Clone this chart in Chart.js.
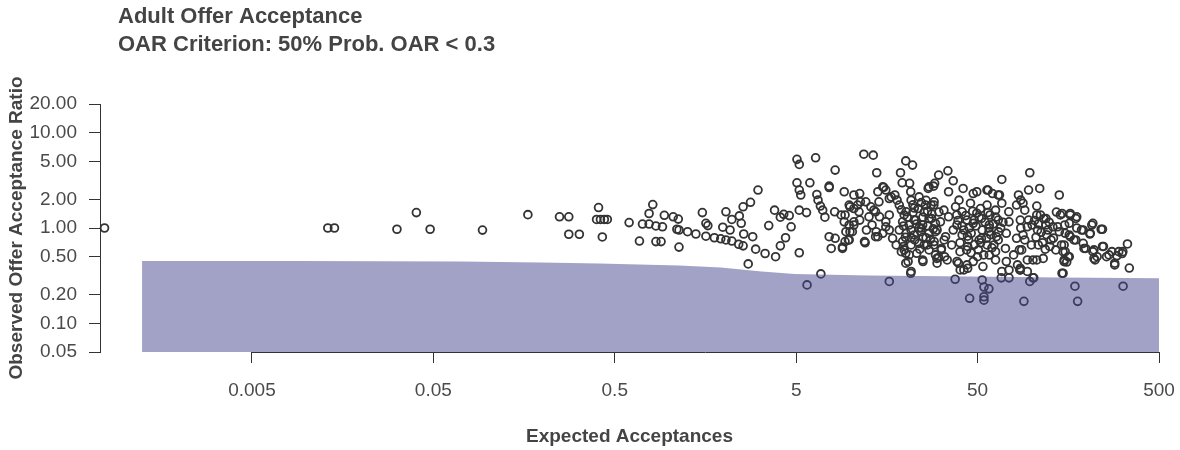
<!DOCTYPE html>
<html>
<head>
<meta charset="utf-8">
<script src="https://cdn.jsdelivr.net/npm/chart.js@4.4.0/dist/chart.umd.min.js"></script>
<style>
  html, body { margin: 0; padding: 0; background: #fff; }
  #wrap { width: 1180px; height: 450px; }
</style>
</head>
<body>
<div id="wrap"><canvas id="oarChart" width="1180" height="450"></canvas></div>
<script>
const titleLines = ["Adult Offer Acceptance", "OAR Criterion: 50% Prob. OAR < 0.3"];
const xTitle = "Expected Acceptances";
const yTitle = "Observed Offer Acceptance Ratio";
const xTicks = [0.005, 0.05, 0.5, 5, 50, 500];
const yTicks = [0.05, 0.1, 0.2, 0.5, 1, 2, 5, 10, 20];

// criterion band (upper edge of the shaded area)
const criterionX = [0.00124, 0.0092, 0.0701, 0.194, 0.408, 1.13, 1.92, 3.23, 4.91, 12.6, 44.7, 140, 500];
const criterionY = [0.451, 0.451, 0.446, 0.435, 0.425, 0.405, 0.384, 0.349, 0.330, 0.318, 0.309, 0.303, 0.297];

// observed units: [expected, observed ratio]
const sparseLeft = [
  [0.00077, 1.0], [0.0131, 1.0], [0.01425, 1.0], [0.0315, 0.97], [0.0403, 1.45], [0.048, 0.97],
  [0.0933, 0.95], [0.166, 1.38], [0.248, 1.31], [0.279, 1.31], [0.279, 0.86], [0.319, 0.86],
  [0.407, 1.64], [0.397, 1.23], [0.417, 1.23], [0.438, 1.23], [0.455, 1.23], [0.427, 0.805],
  [0.60, 1.14], [0.684, 0.73], [0.81, 1.76], [0.773, 1.42], [0.938, 1.36], [1.05, 1.31],
  [0.711, 1.10], [0.773, 1.10], [0.843, 1.05], [0.916, 1.03], [0.843, 0.72], [0.90, 0.72]
];

const midBand = [
  [1.12, 1.24], [1.10, 0.97], [1.13, 0.953], [1.26, 0.915], [1.40, 0.865], [1.13, 0.63],
  [1.52, 1.45], [1.59, 1.12], [1.63, 1.06], [1.59, 0.82], [1.77, 0.79], [1.92, 0.77],
  [2.05, 0.749], [2.21, 0.73], [2.41, 0.675], [2.55, 0.65], [1.97, 1.02], [2.16, 0.953],
  [2.21, 1.23], [2.05, 1.48], [2.43, 1.34], [2.49, 1.12], [2.57, 0.865], [2.55, 1.67],
  [2.80, 1.86], [2.88, 0.81], [2.99, 0.60], [3.37, 0.54], [3.85, 0.50], [2.72, 0.42],
  [3.08, 2.5], [3.53, 1.06], [3.80, 1.54], [4.09, 1.30], [4.27, 1.39], [4.58, 1.35],
  [4.69, 1.03], [4.37, 0.79], [4.09, 0.65], [5.2, 1.54], [5.7, 1.45], [5.2, 0.55],
  [5.05, 5.25], [5.2, 4.65], [6.4, 5.45], [5.05, 2.98], [5.2, 2.5], [5.3, 2.22],
  [5.95, 2.98], [6.5, 2.25], [6.6, 1.96], [6.8, 1.70], [7.0, 1.54], [7.2, 1.30],
  [7.6, 2.75], [7.6, 2.66], [8.2, 4.05], [8.15, 1.48], [8.85, 1.37], [7.6, 0.81],
  [8.2, 0.78], [7.8, 0.61], [9.0, 0.63], [9.7, 0.749]
];

const clusterA = [
  [11.8, 5.95], [13.3, 5.81], [13.9, 3.8], [9.2, 2.4], [10.4, 2.22], [11.2, 2.3],
  [9.9, 1.67], [10.9, 1.74], [12.1, 1.88], [9.2, 1.16], [10.4, 1.075], [11.2, 1.21],
  [9.9, 0.915], [12.0, 0.70], [14.1, 2.4], [15.2, 2.67], [16.7, 2.12], [17.5, 2.22],
  [13.4, 1.54], [14.4, 1.31], [15.6, 1.16], [16.3, 0.953], [13.8, 0.915], [14.1, 0.81],
  [18.8, 3.8], [20.1, 5.06], [21.9, 4.57], [19.2, 2.98], [21.1, 2.94], [21.4, 2.4],
  [20.1, 0.427], [20.1, 0.543], [25, 0.445],
  [9.3, 1.37], [9.8, 1.74], [10.4, 1.6], [11.1, 1.48], [9.8, 1.075], [10.4, 1.16],
  [9.4, 0.915], [10.2, 0.915], [9.3, 0.72], [9.8, 0.749], [9.0, 0.61], [11.9, 0.72],
  [12.2, 0.953], [13.1, 1.075], [12.6, 1.31], [13.7, 1.48], [14.3, 1.88], [16.3, 2.04],
  [16.3, 1.37], [15, 0.88], [13.7, 0.81], [17, 0.78], [15.6, 1.03], [11.3, 1.88],
  [12.9, 1.67], [27, 2.7], [29, 2.94], [15, 2.7], [15.6, 2.5]
];

const clusterB = [
  [18.5, 1.74], [20.2, 1.48], [21.5, 1.96], [23.8, 2.12], [25.8, 1.74], [28.8, 1.88],
  [19.3, 1.16], [21, 1.075], [22.8, 1.21], [24.9, 1.075], [27, 1.26], [29.3, 1.12],
  [20.2, 0.88], [22.4, 0.845], [24.3, 0.915], [27, 0.88], [19.3, 0.72], [21.5, 0.664],
  [23.8, 0.69], [26.4, 0.664], [28.8, 0.72], [19, 0.565], [21, 0.522], [24.9, 0.462],
  [29.3, 0.522], [20.7, 0.445], [21.5, 0.35],
  [18.0, 1.96], [19.7, 1.37], [22.4, 1.62], [25.4, 1.47], [27.7, 1.74], [18.5, 0.953],
  [21.5, 0.79], [23.8, 1.0], [26, 0.79], [29.9, 0.953], [19.7, 0.589], [23.1, 0.543],
  [27, 0.589], [22.4, 1.21], [25.4, 0.664], [17.8, 0.664], [30.6, 1.47], [32.7, 0.749],
  [31.5, 0.589],
  [26.7, 2.6], [28.6, 2.75], [30.5, 3.59], [34.3, 3.98], [36.7, 3.13], [29.9, 0.427],
  [30.5, 0.49], [32.9, 0.50], [39.2, 0.427], [40.1, 0.363], [42, 0.363], [44.1, 0.378],
  [19.0, 1.55], [20.5, 1.3], [22, 1.45], [23.5, 1.6], [25, 1.3], [26.5, 1.5], [28, 1.4],
  [19.5, 1.05], [21.5, 0.95], [23, 1.1], [24.5, 1.0], [26.5, 1.05], [28.5, 0.98],
  [20, 0.8], [22.5, 0.75], [25, 0.8], [27.5, 0.76], [19.5, 0.64], [24, 0.6],
  [22, 1.75], [24.5, 1.85], [26, 1.95]
];

const clusterC = [
  [34.6, 2.4], [41.6, 2.6], [47.3, 2.3], [57.1, 2.5], [65, 2.22], [68, 1.82], [82, 1.74],
  [89, 1.82], [84, 2.22],
  [28.7, 1.74], [32.6, 1.54], [37.8, 1.67], [41.1, 1.48], [45.7, 1.82], [51.9, 1.60],
  [56.4, 1.74], [62.8, 1.54], [74.3, 1.48],
  [27.9, 1.26], [31.2, 1.16], [34.6, 1.31], [38.5, 1.075], [43.7, 1.21], [47.3, 1.12],
  [52.5, 1.26], [58.0, 1.075], [65, 1.21], [74.5, 1.16], [86, 1.21], [94, 1.03],
  [29.3, 0.915], [33.3, 0.81], [36.7, 0.953], [41.1, 0.845], [46.1, 0.88], [52.5, 0.78],
  [57.8, 0.915], [63.5, 0.81], [72, 0.88], [82, 0.78], [89, 0.845],
  [28.7, 0.664], [31.6, 0.61], [36, 0.664], [40, 0.565], [44.1, 0.64], [50.5, 0.589],
  [56.4, 0.664], [62.8, 0.565], [71.2, 0.61], [79, 0.522], [87.5, 0.589],
  [29.8, 0.48], [34, 0.462], [38.5, 0.445], [43.7, 0.41], [47.3, 0.445], [53.5, 0.394],
  [62.8, 0.462], [72, 0.445], [83, 0.41], [68, 0.35], [74.5, 0.363], [86, 0.363],
  [38.4, 1.37], [42, 0.953], [47.8, 1.21], [51, 0.749], [57.8, 1.0], [61.5, 0.664],
  [43.5, 0.589], [54, 0.522], [65.3, 0.91], [39.5, 1.96], [44.6, 0.749], [49.5, 1.43],
  [58.5, 1.37], [69, 1.15],
  [39, 1.2], [41, 1.05], [43, 1.35], [45, 1.0], [47, 1.5], [49, 1.05], [51, 1.3], [53, 0.95],
  [55, 1.15], [57, 1.45], [59, 0.85], [61, 1.1], [63, 1.3], [65, 0.75], [67, 1.0],
  [40, 0.7], [44, 0.82], [48, 0.67], [52, 0.7], [56, 0.78], [60, 0.62], [46, 0.55],
  [50, 0.5], [58, 0.52]
];

const rightTail = [
  [68, 3.23], [97, 3.8], [141, 2.22], [49.5, 2.4], [56.3, 2.5], [60.4, 2.3], [66, 2.22],
  [106, 1.70], [119, 1.26], [143, 1.37], [162, 1.37], [174, 1.26], [122, 0.953], [138, 1.03],
  [152, 0.88], [162, 0.81], [174, 0.749], [191, 0.69], [148, 0.565], [150, 0.444], [158, 0.50],
  [191, 0.953], [213, 1.075], [240, 0.97], [209, 0.88], [219, 0.48], [247, 0.64], [265, 0.522],
  [285, 0.427], [313, 0.54], [335, 0.68],
  [86.5, 1.96], [91, 1.54], [95.5, 1.21], [86.5, 1.0], [100, 1.075], [106, 1.37], [107, 0.953],
  [91, 0.749], [99, 0.664], [85, 0.589], [95.5, 2.5], [110, 2.6], [146, 1.42], [162, 1.42],
  [176, 1.31], [160, 1.12], [187, 0.953], [216, 1.12], [244, 0.97], [208, 0.865], [130, 1.03],
  [141, 0.915], [125, 0.64], [135, 0.589], [150, 0.664], [152, 0.565], [150, 0.462], [160, 0.50],
  [193, 0.61], [216, 0.565], [244, 0.64], [257, 0.50], [285, 0.41], [94, 0.462], [101, 0.462],
  [106, 0.462], [115, 0.48], [86, 0.378], [94, 0.35], [222, 0.462], [228, 0.50],
  [300, 0.565], [316, 0.565], [275, 0.565], [293, 0.51], [219, 0.589], [197, 0.61],
  [151, 1.075], [160, 0.845], [145, 0.664], [170, 0.749], [155, 0.44], [176, 1.0],
  [111, 1.37], [119, 1.075], [131, 0.785], [108, 0.664], [136, 1.47],
  [103, 1.2], [108, 1.1], [112, 0.9], [116, 1.25], [120, 0.85], [124, 1.15], [127, 0.75],
  [105, 0.8], [114, 0.7], [118, 0.6]
];

const lowOutliers = [
  [5.74, 0.253], [6.84, 0.33], [16.3, 0.275], [21.4, 0.335], [37.6, 0.29], [45.2, 0.183],
  [53, 0.285], [54.2, 0.24], [57.7, 0.23], [54.2, 0.19], [54.2, 0.175], [67.5, 0.30],
  [74.5, 0.30], [85.5, 0.363], [97, 0.275], [102, 0.30], [101, 0.30], [90, 0.17],
  [148, 0.335], [146, 0.335], [172, 0.245], [178, 0.17], [317, 0.245], [343, 0.38]
];

const FONT = '"Liberation Sans", Arial, Helvetica, sans-serif';
const INK = '#333';

const observed = [...sparseLeft, ...midBand, ...clusterA, ...clusterB, ...clusterC, ...rightTail, ...lowOutliers]
  .map(([x, y]) => ({ x, y }));
const criterion = criterionX.map((x, i) => ({ x, y: criterionY[i] }));

const headerTitle = {
  id: 'headerTitle',
  afterDraw(chart) {
    const { ctx } = chart;
    ctx.save();
    ctx.font = 'bold 22px ' + FONT;
    ctx.fillStyle = '#444';
    ctx.textBaseline = 'middle';
    ctx.textAlign = 'left';
    titleLines.forEach((t, i) => ctx.fillText(t, 118, 17 + i * 28));
    ctx.restore();
  }
};

const xAxisLine = {
  id: 'xAxisLine',
  afterDraw(chart) {
    const { ctx, scales } = chart;
    const y0 = Math.round(chart.chartArea.bottom) + 0.5;
    ctx.save();
    ctx.strokeStyle = INK;
    ctx.lineWidth = 1;
    ctx.beginPath();
    ctx.moveTo(scales.x.getPixelForValue(xTicks[0]), y0);
    ctx.lineTo(scales.x.getPixelForValue(xTicks[xTicks.length - 1]), y0);
    ctx.stroke();
    ctx.restore();
  }
};

new Chart(document.getElementById('oarChart'), {
  type: 'scatter',
  data: {
    datasets: [
      {
        label: 'Criterion',
        data: criterion,
        showLine: true,
        fill: 'start',
        tension: 0,
        backgroundColor: 'rgba(69,69,141,0.5)',
        borderColor: 'rgba(0,0,0,0)',
        borderWidth: 1,
        pointRadius: 0,
        order: 0
      },
      {
        label: 'Observed',
        data: observed,
        pointStyle: 'circle',
        pointRadius: 3.9,
        pointBorderWidth: 1.8,
        borderColor: INK,
        backgroundColor: 'rgba(0,0,0,0)',
        clip: false,
        order: 1
      }
    ]
  },
  options: {
    responsive: false,
    animation: false,
    devicePixelRatio: 1,
    layout: { padding: { top: 104, right: 21, bottom: 0, left: 0 } },
    plugins: { legend: { display: false }, tooltip: { enabled: false } },
    scales: {
      x: {
        type: 'logarithmic',
        min: 0.000727,
        max: 500,
        border: { display: false },
        grid: { drawOnChartArea: false, drawTicks: true, tickLength: 11, color: INK, lineWidth: 1 },
        ticks: {
          autoSkip: false, maxRotation: 0, padding: 16, color: '#4a4a4a',
          font: { family: FONT, size: 19 },
          callback: v => String(v)
        },
        afterBuildTicks: s => { s.ticks = xTicks.map(v => ({ value: v })); },
        afterFit: s => { s.height = 98; s.paddingLeft = 0; s.paddingRight = 0; },
        title: {
          display: true, text: xTitle, color: '#444',
          font: { family: FONT, size: 19, weight: 'bold' },
          padding: { top: 0, bottom: 2 }
        }
      },
      y: {
        type: 'logarithmic',
        min: 0.05,
        max: 20,
        border: { display: true, color: INK, width: 1 },
        grid: { drawOnChartArea: false, drawTicks: true, tickLength: 11, color: INK, lineWidth: 1 },
        ticks: {
          autoSkip: false, padding: 12, color: '#4a4a4a',
          font: { family: FONT, size: 19 },
          callback: v => Number(v).toFixed(2)
        },
        afterBuildTicks: s => { s.ticks = yTicks.map(v => ({ value: v })); },
        afterFit: s => { s.width = 100; },
        title: {
          display: true, text: yTitle, color: '#444',
          font: { family: FONT, size: 19, weight: 'bold' },
          padding: { top: 5, bottom: 0 }
        }
      }
    }
  },
  plugins: [headerTitle, xAxisLine]
});
</script>
</body>
</html>
